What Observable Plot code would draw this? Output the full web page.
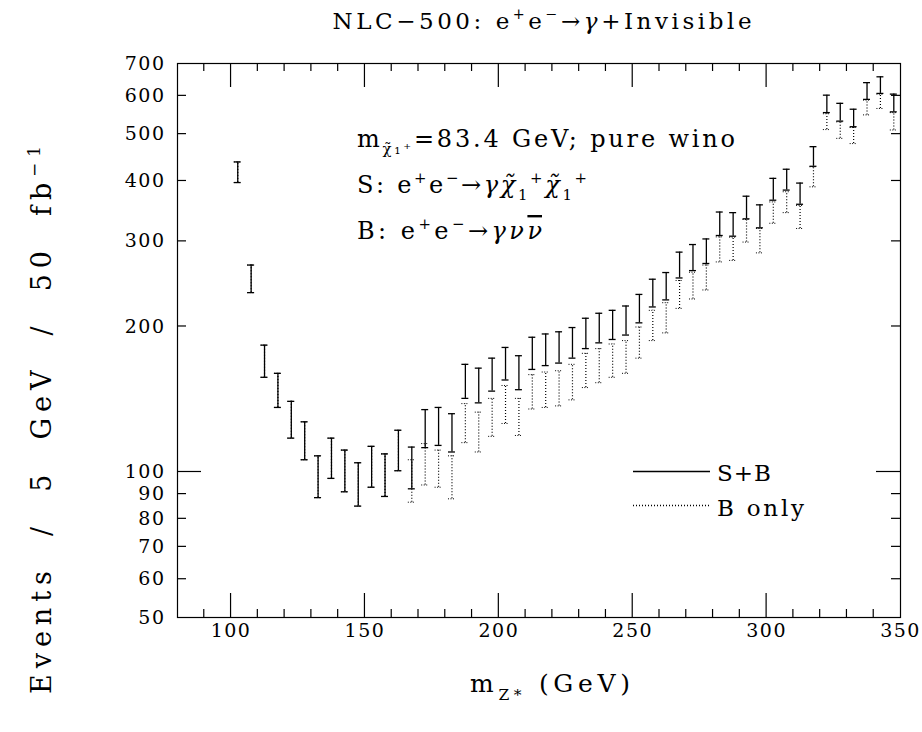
<!DOCTYPE html>
<html><head><meta charset="utf-8">
<script src="https://cdn.jsdelivr.net/npm/d3@7"></script>
<script src="https://cdn.jsdelivr.net/npm/@observablehq/plot@0.6"></script>
<style>body{margin:0;background:#fff;}</style>
</head><body><div id="chart"></div>
<script>
// Bin centres (GeV)
const mass = [102.5,107.5,112.5,117.5,122.5,127.5,132.5,137.5,142.5,147.5,
  152.5,157.5,162.5,167.5,172.5,177.5,182.5,187.5,192.5,197.5,
  202.5,207.5,212.5,217.5,222.5,227.5,232.5,237.5,242.5,247.5,
  252.5,257.5,262.5,267.5,272.5,277.5,282.5,287.5,292.5,297.5,
  302.5,307.5,312.5,317.5,322.5,327.5,332.5,337.5,342.5,347.5];
// S+B error bar ends
const sbLow = [397,235,157,136,117.5,106,88.5,97,91,85,
  93,89,100.6,92.3,112.3,113.5,110,142,139,147,
  155,148,163,166,168,172,180,185,188,192,
  203.5,219.5,227,252,261,270,308.5,307.5,334,320,
  365,383,358,429,554,532,518,590,607,556];
const sbHigh = [438,268,183,160,140,127,108,117.5,111,104.5,
  113,109,122,112.6,134.6,136,132,167,164,172,
  181,174,190,193,195,199,208,213,216,220.5,
  233,250.5,258.6,285,295.5,303.5,345,344,372,357,
  405,423,396,471,602,579,563,639,657,605];
// B only error bar ends
const bLow = [397,235,157,136,117.5,106,88.5,97,91,85,
  93,89,100.6,86.6,94,93,88,115,110,118.5,
  126,119,135,136,137,141,149.5,153,157,160,
  172,187,194,218,228,238,272,274,299,284,
  327,344,319,389,511,490,478,548,565,510];
const bHigh = [438,268,183,160,140,127,108,117.5,111,104.5,
  113,109,122,106,114.5,111,108,138.5,133,142,
  151,142,159,161,162,167,176,180,184,187,
  199.5,216,224,249,259,268,306.5,306,333,319,
  362,380,356,428,551,530,516,588,605,554];
// Ticks
const xLabelTicks = [100,150,200,250,300,350];
const xMajorTicks = [100,150,200,250,300];
const xMinorTicks = [90,110,120,130,140,160,170,180,190,210,220,230,240,260,270,280,290,310,320,330,340];
const yLabelTicks = [50,60,70,80,90,100,200,300,400,500,600,700];
const yMajorTicks = [100];
const yMinorTicks = [60,70,80,90,200,300,400,500,600];

(function () {
const CAP = 1.3; // half cap width in GeV
const rows = mass.map((m, i) => ({m, sbLo: sbLow[i], sbHi: sbHigh[i], bLo: bLow[i], bHi: bHigh[i]}));
const FONT = "DejaVu Serif";

const chart = Plot.plot({
  width: 922, height: 732,
  marginLeft: 177, marginRight: 22, marginTop: 63, marginBottom: 115,
  style: {fontFamily: FONT, fontSize: "19px", background: "white", color: "black"},
  x: {domain: [80, 350], axis: null},
  y: {type: "log", domain: [50, 700], axis: null},
  marks: [
    Plot.frame({stroke: "black", strokeWidth: 1.2}),
    Plot.ruleX(rows, {x: "m", y1: "bLo", y2: "bHi", stroke: "black", strokeWidth: 1.2, strokeDasharray: "1,2"}),
    Plot.ruleY(rows, {y: "bLo", x1: d => d.m - CAP, x2: d => d.m + CAP, stroke: "black", strokeDasharray: "1,1.5"}),
    Plot.ruleY(rows, {y: "bHi", x1: d => d.m - CAP, x2: d => d.m + CAP, stroke: "black", strokeDasharray: "1,1.5"}),
    Plot.ruleX(rows, {x: "m", y1: "sbLo", y2: "sbHi", stroke: "black", strokeWidth: 1.3}),
    Plot.ruleY(rows, {y: "sbLo", x1: d => d.m - CAP, x2: d => d.m + CAP, stroke: "black", strokeWidth: 1.3}),
    Plot.ruleY(rows, {y: "sbHi", x1: d => d.m - CAP, x2: d => d.m + CAP, stroke: "black", strokeWidth: 1.3}),
    Plot.text(yLabelTicks, {y: d => d, frameAnchor: "left", dx: -12, textAnchor: "end", text: d => String(d), fontSize: 19, fill: "black"}),
    Plot.text(xLabelTicks, {x: d => d, frameAnchor: "bottom", dy: 19, text: d => String(d), fontSize: 19, fill: "black"})
  ]
});
document.getElementById("chart").appendChild(chart);

const svg = d3.select(chart);
svg.selectAll("text").style("letter-spacing", "1.5px");
const xs = chart.scale("x"), ys = chart.scale("y");
const X = v => xs.apply(v), Y = v => ys.apply(v);
const pLeft = X(80), pRight = X(350), pBottom = Y(50), pTop = Y(700);
const g = svg.append("g").attr("stroke", "black").attr("stroke-width", 1.2);
function tickV(x, len) {
  g.append("line").attr("x1", x).attr("x2", x).attr("y1", pBottom).attr("y2", pBottom - len);
  g.append("line").attr("x1", x).attr("x2", x).attr("y1", pTop).attr("y2", pTop + len);
}
function tickH(y, len) {
  g.append("line").attr("y1", y).attr("y2", y).attr("x1", pLeft).attr("x2", pLeft + len);
  g.append("line").attr("y1", y).attr("y2", y).attr("x1", pRight).attr("x2", pRight - len);
}
xMajorTicks.forEach(v => tickV(X(v), 24));
xMinorTicks.forEach(v => tickV(X(v), 8));
yMajorTicks.forEach(v => tickH(Y(v), 24));
yMinorTicks.forEach(v => tickH(Y(v), 9));

function rich(x, y, segs, size, opts = {}) {
  const t = svg.append("text").attr("x", x).attr("y", y)
    .attr("font-family", FONT).attr("font-size", size).attr("fill", "black")
    .attr("text-anchor", opts.anchor || "start");
  if (opts.len) t.attr("textLength", opts.len).attr("lengthAdjust", "spacing");
  if (opts.transform) t.attr("transform", opts.transform);
  let cur = 0;
  for (const s of segs) {
    const shift = s.sup ? -0.42 * size : s.sub ? 0.3 * size : 0;
    const ts = t.append("tspan").attr("dy", shift - cur).text(s.t);
    if (s.sup || s.sub) ts.attr("font-size", size * 0.62);
    if (s.it) ts.attr("font-style", "italic");
    if (s.over) ts.attr("text-decoration", "overline").style("text-decoration-thickness", "1px");
    cur = shift;
  }
  return t;
}

rich(542, 29, [{t: "NLC\u2212500: e"}, {t: "+", sup: 1}, {t: "e"}, {t: "\u2212", sup: 1}, {t: "\u2192"}, {t: "\u03b3", it: 1}, {t: "+Invisible"}], 23, {anchor: "middle", len: 419});

rich(357, 147, [{t: "m"}, {t: "\u03c7\u0303\u2081\u207a", sub: 1}, {t: "=83.4 GeV; pure wino"}], 24, {len: 378});
rich(357, 193, [{t: "S: e"}, {t: "+", sup: 1}, {t: "e"}, {t: "\u2212", sup: 1}, {t: "\u2192"}, {t: "\u03b3\u03c7\u0303", it: 1}, {t: "1", sub: 1}, {t: "+", sup: 1}, {t: "\u03c7\u0303", it: 1}, {t: "1", sub: 1}, {t: "+", sup: 1}], 24, {len: 230});
rich(357, 239, [{t: "B: e"}, {t: "+", sup: 1}, {t: "e"}, {t: "\u2212", sup: 1}, {t: "\u2192"}, {t: "\u03b3\u03bd", it: 1}, {t: "\u03bd", it: 1, over: 1}], 24, {len: 185});

const lg = svg.append("g").attr("stroke", "black").attr("stroke-width", 1.3);
lg.append("line").attr("x1", 633).attr("x2", 710).attr("y1", Y(100)).attr("y2", Y(100));
lg.append("line").attr("x1", 633).attr("x2", 710).attr("y1", Y(100) + 34).attr("y2", Y(100) + 34).attr("stroke-dasharray", "1,2");
rich(717, Y(100) + 10, [{t: "S+B"}], 23, {len: 54});
rich(717, Y(100) + 45, [{t: "B only"}], 23, {len: 87});

rich(550, 692, [{t: "m"}, {t: "Z*", sub: 1}, {t: " (GeV)"}], 25, {anchor: "middle", len: 160});
rich(0, 0, [{t: "Events  /  5  GeV  /  50  fb"}, {t: "\u22121", sup: 1}], 27, {anchor: "middle", len: 548, transform: "translate(51,420) rotate(-90)"});
})();
</script>
</body></html>
